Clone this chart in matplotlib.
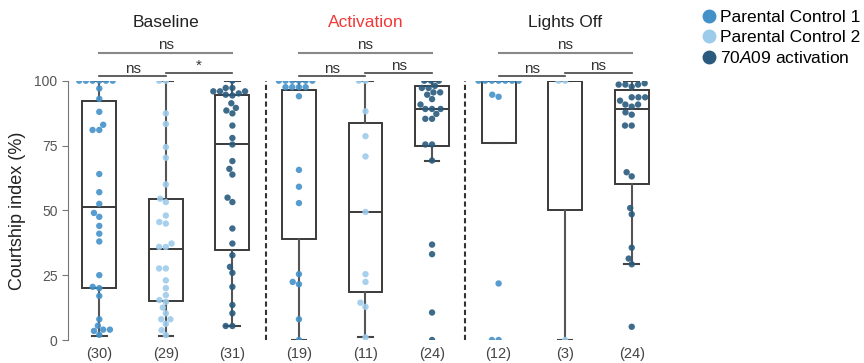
import pandas as pd
import matplotlib.pyplot as plt
import seaborn as sns
from matplotlib.lines import Line2D

plt.rcParams["font.family"] = ["Liberation Sans", "DejaVu Sans"]
plt.rcParams["mathtext.fontset"] = "custom"
plt.rcParams["mathtext.rm"] = "Liberation Sans"
plt.rcParams["mathtext.it"] = "Liberation Sans:italic"

# courtship index (%) per fly
bl_pc1 = [100, 100, 100, 100, 100, 100, 97, 93, 88, 83, 81, 81, 64, 57, 52.5, 49, 47.5,
          44, 41, 38, 25, 20.5, 20, 17, 8, 5.5, 4, 3.5, 4, 2]
bl_pc2 = [100, 100, 87.4, 83.3, 74.4, 70.3, 60, 54.5, 53.2, 48, 45.5, 44.9, 37.2, 35.9,
          35.9, 27.6, 27.6, 23, 20, 17.3, 15.4, 14.7, 12.5, 10.3, 8, 8, 6.2, 3.8, 1.9]
bl_70 = [100, 97.2, 97.2, 95.9, 95.9, 95.9, 95.1, 94.6, 94.3, 91.3, 89.5, 88.5, 87.4,
         82.7, 77.9, 75.4, 69, 66, 63.8, 54.9, 53.2, 43, 37.2, 32.7, 28.2, 25.9, 20.5,
         13.5, 10.3, 5.4, 5.4]
act_pc1 = [100, 100, 100, 100, 100, 100, 97.5, 97.5, 97.5, 97.5, 94, 65.6, 59.1, 52.8,
           25.4, 22.4, 21.5, 8, 0]
act_pc2 = [100, 100, 88.2, 78.6, 70.8, 49.4, 25.4, 22.4, 14.4, 12.8, 1]
act_70 = [100, 100, 100, 98, 97.2, 97.2, 95.5, 95.5, 94.6, 92.9, 90.8, 89.1, 89.1, 89.1,
          87.2, 85.3, 85.3, 75.4, 75.4, 69.2, 36.8, 33.1, 10.6, 0]
lo_pc1 = [100, 100, 100, 100, 100, 100, 100, 94.6, 93.8, 21.8, 0, 0]
lo_pc2 = [100, 100, 0]
lo_70 = [99, 98.5, 98.5, 98.5, 97.7, 93.6, 93.6, 93.6, 92.3, 90.8, 90.8, 90, 87.8, 86.9,
         82.7, 82.7, 64.7, 63.1, 50.9, 48.5, 35.6, 31.4, 29.2, 5.1]

series = [bl_pc1, bl_pc2, bl_70, act_pc1, act_pc2, act_70, lo_pc1, lo_pc2, lo_70]
genotypes = ["pc1", "pc2", "70a09"] * 3

# box stats: q1, median, q3, whisker low, whisker high
box_q1 = [19.9, 15, 34.9, 39.1, 18.6, 74.7, 75.9, 50.3, 60]
box_med = [51.3, 35, 75.6, 96.4, 49.4, 89.1, 100, 100, 89.1]
box_q3 = [92, 54.5, 94.6, 96.4, 83.6, 98, 100, 100, 96.4]
box_lo = [1.7, 1.7, 5.4, 0, 1, 69.2, 75.9, 0, 29.5]
box_hi = [100, 100, 100, 100, 100, 100, 100, 100, 100]

conditions = ["Baseline", "Activation", "Lights Off"]
cond_colors = ["#222222", "#f03a3a", "#222222"]
top_sig = ["ns", "ns", "ns"]
left_sig = ["ns", "ns", "ns"]
right_sig = ["*", "ns", "ns"]

colors = {"pc1": "#4391c9", "pc2": "#9dcbea", "70a09": "#2a5b7e"}
legend_labels = ["Parental Control 1", "Parental Control 2", "$\\it{70A09}$ activation"]

rows = []
for i, vals in enumerate(series):
    for v in vals:
        rows.append({"group": str(i), "value": v, "geno": genotypes[i]})
df = pd.DataFrame(rows)

fig = plt.figure(figsize=(8.64, 3.63), dpi=100)
ax = fig.add_axes([68 / 864, 23 / 363, 595 / 864, 259.3 / 363])

stats = []
for i in range(len(series)):
    stats.append({"q1": box_q1[i], "med": box_med[i], "q3": box_q3[i],
                  "whislo": box_lo[i], "whishi": box_hi[i], "fliers": []})
ax.bxp(stats, positions=range(len(series)), widths=0.51, capwidths=0.22,
       showfliers=False, patch_artist=True,
       boxprops=dict(facecolor="white", edgecolor="#3a3a3a", linewidth=1.4),
       medianprops=dict(color="#3a3a3a", linewidth=1.4),
       whiskerprops=dict(color="#555555", linewidth=1.5),
       capprops=dict(color="#444444", linewidth=1.5), zorder=1)

sns.swarmplot(data=df, x="group", y="value", hue="geno", palette=colors,
              order=[str(i) for i in range(len(series))], size=4.6, alpha=0.9,
              legend=False, ax=ax, zorder=3)
# dots at 0 and 100 are cut by the axes edge, as in the original
for coll in ax.collections:
    coll.set_clip_on(True)
    coll.set_clip_path(ax.patch)

ax.set_xlim(-0.47, 8.47)
ax.set_ylim(0, 100)
ax.set_yticks([0, 25, 50, 75, 100])
ax.set_xticks(range(len(series)))
ax.set_xticklabels(["(%d)" % len(s) for s in series], fontsize=10.5, color="#444444")
ax.tick_params(axis="x", length=0, pad=5)
ax.tick_params(axis="y", length=4, color="#777777", labelcolor="#555555", labelsize=10)
ax.set_xlabel("")
ax.set_ylabel("Courtship index (%)", fontsize=13, color="#222222", labelpad=6)
for s in ["top", "right", "bottom"]:
    ax.spines[s].set_visible(False)
ax.spines["left"].set_color("#777777")

for x in [2.5, 5.5]:
    ax.axvline(x, color="#333333", lw=1.5, ls=(0, (2.5, 1.5)), zorder=0)

for g in range(3):
    a, b, c = 3 * g, 3 * g + 1, 3 * g + 2
    ax.text(b, 122.5, conditions[g], ha="center", va="center", fontsize=12.5,
            color=cond_colors[g], clip_on=False)
    ax.plot([a, c], [110.7, 110.7], color="#888888", lw=1.5, clip_on=False)
    ax.text(b, 110.9, top_sig[g], ha="center", va="bottom", fontsize=11, color="#333333")
    ax.plot([a, b], [101.8, 101.8], color="#444444", lw=1.2, clip_on=False)
    ax.plot([b, c], [103.0, 103.0], color="#444444", lw=1.2, clip_on=False)
    ax.text(a + 0.5, 101.9, left_sig[g], ha="center", va="bottom", fontsize=11, color="#333333")
    ax.text(b + 0.5, 103.1, right_sig[g], ha="center", va="bottom", fontsize=11, color="#333333")

handles = [Line2D([], [], marker="o", ls="", markersize=9, color=colors[k])
           for k in ["pc1", "pc2", "70a09"]]
fig.legend(handles, legend_labels, loc="upper left", bbox_to_anchor=(703 / 864, 1 - 10 / 363),
           frameon=False, fontsize=12.5, handlelength=0.7, handletextpad=0.3,
           labelspacing=0.28, borderpad=0, borderaxespad=0)

plt.savefig("out.png", dpi=100)
